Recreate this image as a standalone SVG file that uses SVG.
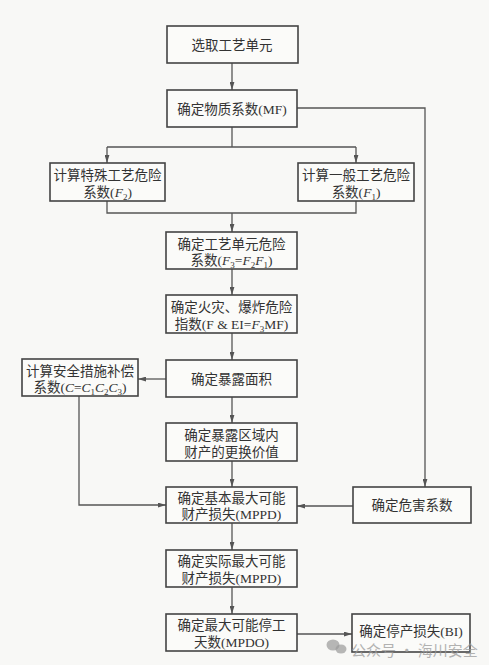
<svg xmlns="http://www.w3.org/2000/svg" width="489" height="665" viewBox="0 0 489 665">
<defs>
<marker id="ah" viewBox="0 0 10 6" refX="10" refY="3" markerWidth="8" markerHeight="5" orient="auto" markerUnits="userSpaceOnUse">
<path d="M0,0 L10,3 L0,6 z" fill="#555"/>
</marker>
<style>
.box{fill:#fbfbf9;stroke:#444;stroke-width:1.6}
.t{font-family:"Liberation Serif","Noto Sans CJK SC",serif;font-size:13.5px;fill:#333;text-anchor:middle}
.i{font-style:italic}
.s{font-size:9px}
.c{fill:none;stroke:#555;stroke-width:1.3}
.a{marker-end:url(#ah)}
.wm{font-family:"Noto Sans CJK SC",sans-serif;font-size:15px;fill:#9a9a9a;opacity:0.75}
</style>
</defs>
<rect x="0" y="0" width="489" height="665" fill="#f8f8f6"/>

<g id="connectors">
<line class="c a" x1="232" y1="63" x2="232" y2="90"/>
<polyline class="c a" points="297,108 425,108 425,487"/>
<line class="c" x1="232" y1="127" x2="232" y2="147"/>
<line class="c" x1="107" y1="147" x2="356" y2="147"/>
<line class="c a" x1="107" y1="147" x2="107" y2="163"/>
<line class="c a" x1="356" y1="147" x2="356" y2="163"/>
<polyline class="c" points="107,201 107,213 356,213 356,201"/>
<line class="c a" x1="232" y1="213" x2="232" y2="232"/>
<line class="c a" x1="232" y1="269" x2="232" y2="295"/>
<line class="c a" x1="232" y1="333" x2="232" y2="360"/>
<line class="c a" x1="166" y1="379" x2="138" y2="379"/>
<line class="c a" x1="232" y1="397" x2="232" y2="423"/>
<line class="c a" x1="232" y1="461" x2="232" y2="487"/>
<polyline class="c a" points="79,396 79,505 166,505"/>
<line class="c a" x1="353" y1="506" x2="297" y2="506"/>
<line class="c a" x1="232" y1="523" x2="232" y2="550"/>
<line class="c a" x1="232" y1="587" x2="232" y2="614"/>
<line class="c a" x1="297" y1="634" x2="352" y2="634"/>
</g>

<g id="n1"><rect class="box" x="167" y="26" width="131" height="37"/>
<text class="t" x="232" y="49.5">选取工艺单元</text></g>

<g id="n2"><rect class="box" x="167" y="90" width="130" height="37"/>
<text class="t" x="232" y="113.5">确定物质系数(MF)</text></g>

<g id="n3"><rect class="box" x="50" y="163" width="115" height="38"/>
<text class="t" x="107.5" y="180">计算特殊工艺危险</text>
<text class="t" x="107.5" y="197">系数(<tspan class="i">F</tspan><tspan class="s" dy="3">2</tspan><tspan dy="-3">)</tspan></text></g>

<g id="n4"><rect class="box" x="298" y="163" width="116" height="38"/>
<text class="t" x="356" y="180">计算一般工艺危险</text>
<text class="t" x="356" y="197">系数(<tspan class="i">F</tspan><tspan class="s" dy="3">1</tspan><tspan dy="-3">)</tspan></text></g>

<g id="n5"><rect class="box" x="166" y="232" width="131" height="37"/>
<text class="t" x="231.5" y="249">确定工艺单元危险</text>
<text class="t" x="231.5" y="265">系数(<tspan class="i">F</tspan><tspan class="s" dy="3">3</tspan><tspan dy="-3">=</tspan><tspan class="i">F</tspan><tspan class="s" dy="3">2</tspan><tspan class="i" dy="-3">F</tspan><tspan class="s" dy="3">1</tspan><tspan dy="-3">)</tspan></text></g>

<g id="n6"><rect class="box" x="166" y="295" width="131" height="38"/>
<text class="t" x="231.5" y="312">确定火灾、爆炸危险</text>
<text class="t" x="231.5" y="329">指数(F &amp; EI=<tspan class="i">F</tspan><tspan class="s" dy="3">3</tspan><tspan dy="-3">MF)</tspan></text></g>

<g id="n7"><rect class="box" x="166" y="360" width="131" height="37"/>
<text class="t" x="231.5" y="383.5">确定暴露面积</text></g>

<g id="n8"><rect class="box" x="22" y="359" width="116" height="37"/>
<text class="t" x="80" y="376">计算安全措施补偿</text>
<text class="t" x="80" y="392">系数(<tspan class="i">C</tspan>=<tspan class="i">C</tspan><tspan class="s" dy="3">1</tspan><tspan class="i" dy="-3">C</tspan><tspan class="s" dy="3">2</tspan><tspan class="i" dy="-3">C</tspan><tspan class="s" dy="3">3</tspan><tspan dy="-3">)</tspan></text></g>

<g id="n9"><rect class="box" x="166" y="423" width="131" height="38"/>
<text class="t" x="231.5" y="440">确定暴露区域内</text>
<text class="t" x="231.5" y="457">财产的更换价值</text></g>

<g id="n10"><rect class="box" x="166" y="487" width="131" height="36"/>
<text class="t" x="231.5" y="503">确定基本最大可能</text>
<text class="t" x="231.5" y="519">财产损失(MPPD)</text></g>

<g id="n11"><rect class="box" x="353" y="487" width="118" height="36"/>
<text class="t" x="412" y="510">确定危害系数</text></g>

<g id="n12"><rect class="box" x="166" y="550" width="131" height="37"/>
<text class="t" x="231.5" y="566">确定实际最大可能</text>
<text class="t" x="231.5" y="583">财产损失(MPPD)</text></g>

<g id="n13"><rect class="box" x="166" y="614" width="131" height="37"/>
<text class="t" x="231.5" y="630">确定最大可能停工</text>
<text class="t" x="231.5" y="647">天数(MPDO)</text></g>

<g id="n14"><rect class="box" x="352" y="614" width="118" height="38"/>
<text class="t" x="411" y="636">确定停产损失(BI)</text></g>

<g id="watermark">
<ellipse cx="333" cy="645" rx="6.5" ry="5.5" fill="#9a9a9a" opacity="0.7"/>
<ellipse cx="341" cy="649" rx="5.5" ry="4.5" fill="#9a9a9a" opacity="0.7"/>
<text class="wm" x="351" y="656">公众号 · 海川安全</text>
</g>
</svg>
